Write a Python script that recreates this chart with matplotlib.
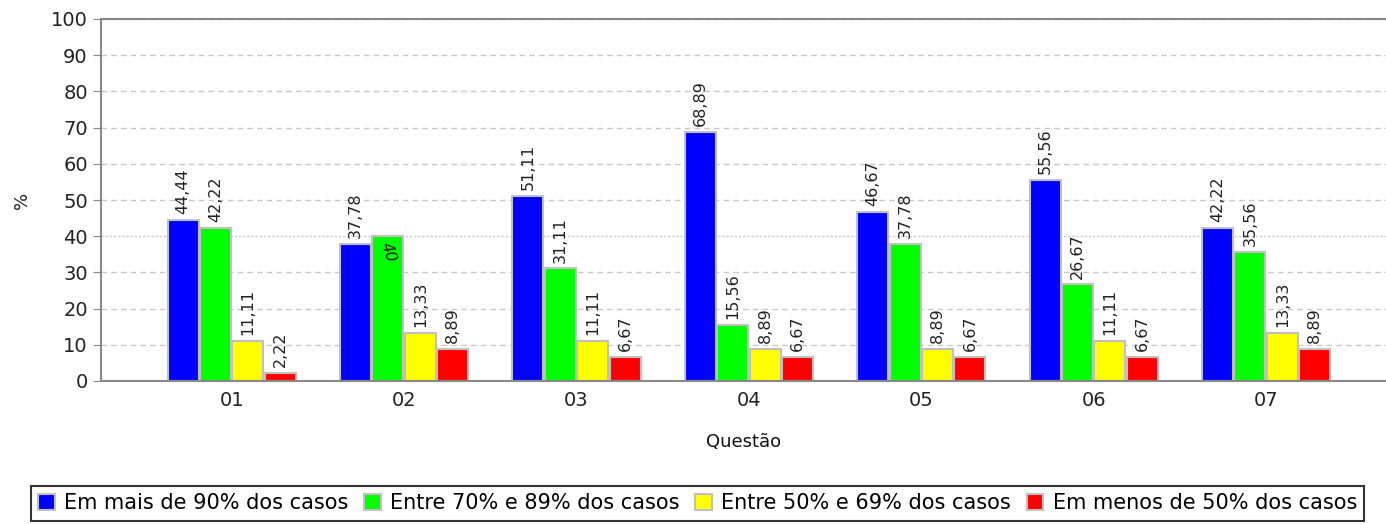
import matplotlib.pyplot as plt
import numpy as np
from matplotlib.patches import Patch

plt.rcParams['font.family'] = "DejaVu Sans"

questions = ["01", "02", "03", "04", "05", "06", "07"]
series_names = ["Em mais de 90% dos casos", "Entre 70% e 89% dos casos",
                "Entre 50% e 69% dos casos", "Em menos de 50% dos casos"]
mais_90 = [44.44, 37.78, 51.11, 68.89, 46.67, 55.56, 42.22]
entre_70_89 = [42.22, 40, 31.11, 15.56, 37.78, 26.67, 35.56]
entre_50_69 = [11.11, 13.33, 11.11, 8.89, 8.89, 11.11, 13.33]
menos_50 = [2.22, 8.89, 6.67, 6.67, 6.67, 6.67, 8.89]
colors = ["#0000ff", "#00ff00", "#ffff00", "#ff0000"]

fig = plt.figure(figsize=(13.86, 5.24), dpi=100)
ax = fig.add_axes([101/1386, 1-381/524, 1-101/1386, (381-19)/524])

x = np.arange(len(questions))
step = 0.188
width = 0.18
all_series = [mais_90, entre_70_89, entre_50_69, menos_50]

# grid (the 40 line looks finer in the original)
for g in range(10, 101, 10):
    dash = (1.5, 1.5) if g == 40 else (4, 3)
    ax.axhline(g, color="#c8c8c8", lw=1, dashes=dash, zorder=0)

for i, (vals, c) in enumerate(zip(all_series, colors)):
    pos = x + (i - 1.5) * step
    ax.bar(pos, vals, width, color=c, edgecolor="#c0c0c0", linewidth=1.5, zorder=2)
    for px, v in zip(pos, vals):
        txt = f"{v:.2f}".replace(".", ",").rstrip("0").rstrip(",")
        if txt == "40":
            ax.text(px, v - 1.2, txt, rotation=-72, ha="center", va="top",
                    fontsize=11.5, color="#222222", zorder=3, style="italic")
        else:
            ax.text(px, v + 1.6, txt, rotation=90, ha="center", va="bottom",
                    fontsize=11.5, color="#222222", zorder=3)

ax.set_xlim(-0.758, 6.695)
ax.set_ylim(0, 100)
ax.set_yticks(range(0, 101, 10))
ax.set_xticks(x, questions)
ax.tick_params(axis="y", labelsize=14, length=6, color="#888888", labelcolor="#222222")
ax.tick_params(axis="x", labelsize=14, length=0, pad=7, labelcolor="#222222")
for s in ["left", "bottom", "top"]:
    ax.spines[s].set_color("#888888")
    ax.spines[s].set_linewidth(1.5)
ax.spines["right"].set_visible(False)

ax.set_xlabel("Questão", fontsize=13, labelpad=17, color="#111111")
ax.set_ylabel("%", fontsize=13, labelpad=14, color="#222222")

handles = [Patch(facecolor=c, edgecolor="#c0c0c0", linewidth=1.5) for c in colors]
leg = fig.legend(handles, series_names, loc="upper center", ncol=4,
                 bbox_to_anchor=(697.5/1386, 1-486/524), fontsize=15,
                 frameon=True, fancybox=False, edgecolor="black",
                 handlelength=0.8, handleheight=0.8, handletextpad=0.45,
                 columnspacing=0.75, borderpad=0.35, borderaxespad=0)
leg.get_frame().set_linewidth(1.5)

fig.savefig("out.png", dpi=100)
